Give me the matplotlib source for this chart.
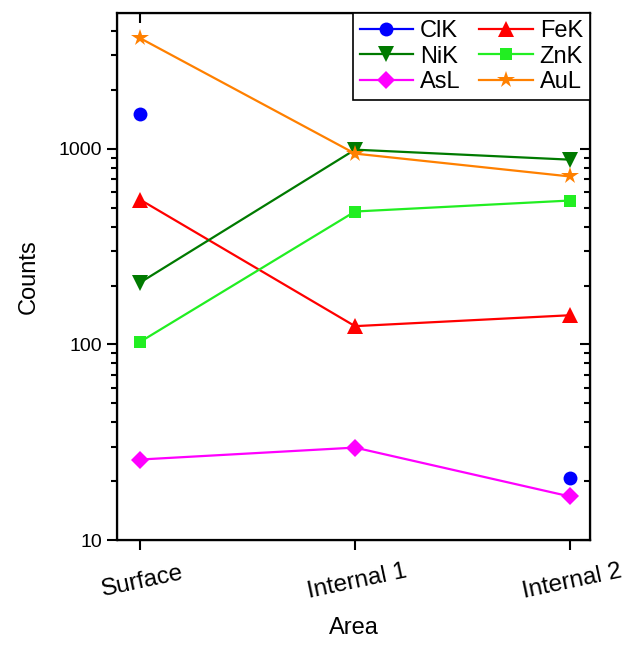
import numpy as np
import matplotlib.pyplot as plt
import matplotlib as mpl
from matplotlib.ticker import LogLocator, NullFormatter

mpl.rcParams['font.family'] = ['Liberation Sans', 'DejaVu Sans']

# data
areas = ['Surface', 'Internal 1', 'Internal 2']
clk = [1500, np.nan, 20.7]
fek = [550, 124, 141]
nik = [207, 990, 880]
znk = [103, 478, 544]
asl = [25.8, 29.7, 16.7]
aul = [3680, 945, 722]

series = [
    ('ClK', clk, '#0000ff', 'o'),
    ('FeK', fek, '#ff0000', '^'),
    ('NiK', nik, '#007a00', 'v'),
    ('ZnK', znk, '#22ee22', 's'),
    ('AsL', asl, '#ff00ff', 'D'),
    ('AuL', aul, '#ff8000', '*'),
]
msize = {'o': 10, '^': 11, 'v': 11, 's': 8.5, 'D': 9, '*': 13}

fig = plt.figure(figsize=(6.27, 6.46), dpi=100)
ax = fig.add_axes([0.1866, 0.164, 0.7544, 0.816])
x = np.arange(len(areas))

handles = {}
for name, vals, col, mk in series:
    h, = ax.plot(x, vals, color=col, marker=mk, markersize=msize[mk],
                 linewidth=1.6, markeredgewidth=0)
    handles[name] = h

ax.set_yscale('log')
ax.set_ylim(10, 4950)
ax.set_xlim(-0.107, 2.093)
ax.set_yticks([10, 100, 1000], labels=['10', '100', '1000'])
ax.yaxis.set_minor_locator(LogLocator(base=10, subs=np.arange(2, 10)))
ax.yaxis.set_minor_formatter(NullFormatter())
ax.set_xticks(x)
ax.set_xticklabels(areas, rotation=12, ha='center', rotation_mode='anchor')
ax.tick_params(axis='x', labelsize=17.5, pad=15)
ax.tick_params(axis='y', labelsize=14)
ax.tick_params(which='major', direction='out', length=7, width=1.5)
ax.tick_params(which='minor', direction='out', length=4, width=1.5)
ax.set_xlabel('Area', fontsize=17, labelpad=10)
ax.set_ylabel('Counts', fontsize=17, labelpad=14)
for s in ax.spines.values():
    s.set_linewidth(1.6)

# mirrored ticks pointing inward on top and right
axT = ax.twiny()
axT.set_xlim(ax.get_xlim())
axT.set_xticks(x)
axT.tick_params(direction='in', length=7, width=1.5, labeltop=False)

axR = ax.twinx()
axR.set_yscale('log')
axR.set_ylim(ax.get_ylim())
axR.set_yticks([10, 100, 1000])
axR.yaxis.set_minor_locator(LogLocator(base=10, subs=np.arange(2, 10)))
axR.tick_params(which='major', direction='in', length=7, width=1.5, labelright=False)
axR.tick_params(which='minor', direction='in', length=4, width=1.5, labelright=False)

order = ['ClK', 'NiK', 'AsL', 'FeK', 'ZnK', 'AuL']
leg = axR.legend([handles[n] for n in order], order, loc='upper right', ncol=2,
                 fontsize=17, frameon=True, fancybox=False, edgecolor='black',
                 framealpha=1, borderaxespad=0, handlelength=2.25,
                 columnspacing=0.8, handletextpad=0.3, labelspacing=0.15,
                 borderpad=0.3)
leg.get_frame().set_linewidth(1.2)

fig.savefig('out.png', dpi=100)
